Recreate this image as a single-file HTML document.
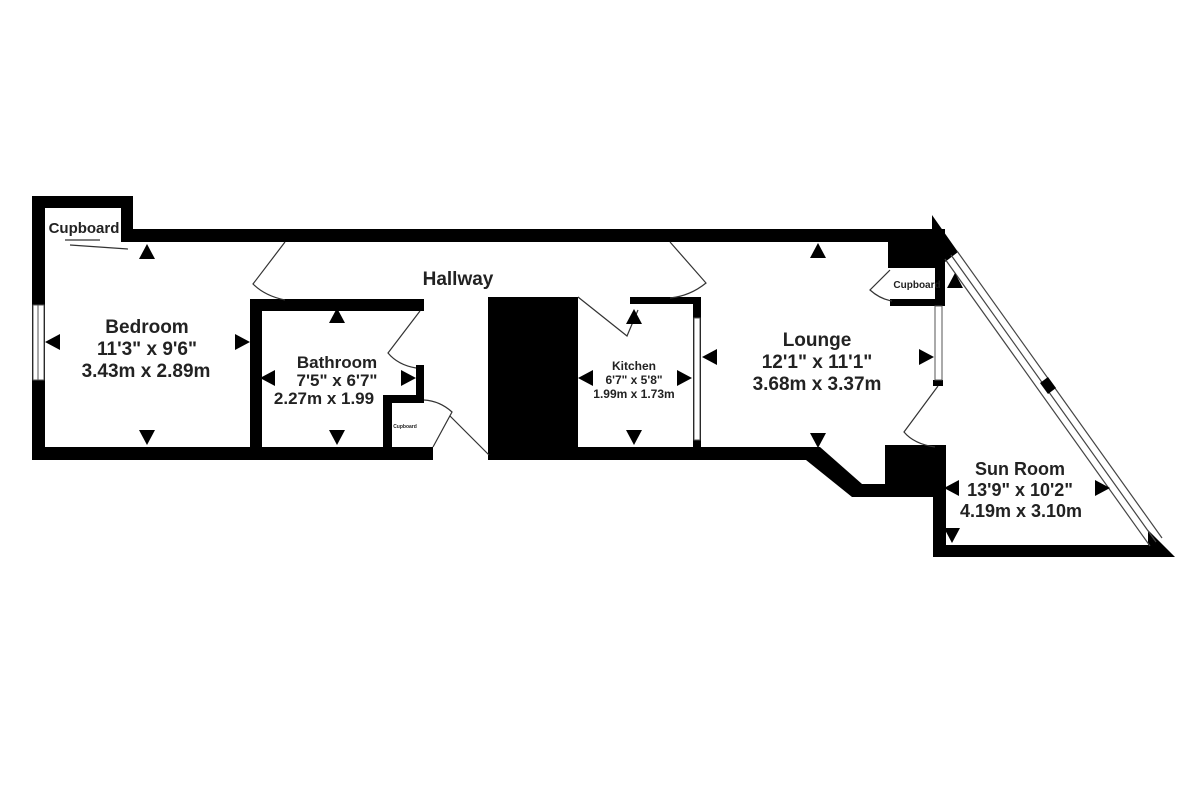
<!DOCTYPE html>
<html><head><style>
html,body{margin:0;padding:0;background:#fff;}
svg{display:block;}
text{font-family:"Liberation Sans",sans-serif;font-weight:bold;fill:#222;text-anchor:middle;}
</style></head><body>
<svg width="1200" height="800" viewBox="0 0 1200 800" xmlns="http://www.w3.org/2000/svg">
<rect width="1200" height="800" fill="#fff"/>
<g fill="#000">
<rect x="32" y="196" width="101" height="12"/>
<rect x="121" y="196" width="12" height="44"/>
<rect x="32" y="196" width="13" height="264"/>
<rect x="121" y="229" width="815" height="13"/>
<polygon points="932,215 958,252 945,262 932,242"/>
<rect x="32" y="447" width="401" height="13"/>
<rect x="565" y="447" width="245" height="13"/>
<polygon points="806,447 820,447 862,484 862,497 852,497 806,460"/>
<rect x="852" y="484" width="90" height="13"/>
<rect x="933" y="445" width="13" height="112"/>
<rect x="885" y="445" width="58" height="40"/>
<rect x="933" y="545" width="225" height="12"/>
<polygon points="1148,530 1175,557 1148,557"/>
<rect x="250" y="299" width="12" height="161"/>
<rect x="250" y="299" width="174" height="12"/>
<rect x="416" y="365" width="8" height="38"/>
<rect x="383" y="395" width="41" height="8"/>
<rect x="383" y="395" width="9" height="65"/>
<rect x="488" y="297" width="90" height="163"/>
<rect x="630" y="297" width="71" height="7"/>
<rect x="693" y="297" width="8" height="163"/>
<rect x="888" y="229" width="57" height="39"/>
<rect x="935" y="242" width="10" height="64"/>
<rect x="890" y="299" width="55" height="7"/>
<rect x="933" y="380" width="10" height="6"/>
</g>
<rect x="33" y="305" width="11" height="75" fill="#fff" stroke="#555" stroke-width="1"/>
<line x1="38" y1="305" x2="38" y2="380" stroke="#555"/>
<rect x="694" y="318" width="6" height="122" fill="#fff" stroke="#555" stroke-width="1"/>
<rect x="935" y="306" width="7" height="74" fill="#fff" stroke="#555" stroke-width="1"/>
<g stroke="#444" stroke-width="1.2" fill="none">
<line x1="945" y1="259" x2="1150" y2="546"/>
<line x1="951" y1="255" x2="1156" y2="542"/>
<line x1="957" y1="251" x2="1162" y2="538"/>
</g>
<polygon points="1040,383 1048,377 1056,388 1048,394" fill="#000"/>
<g stroke="#333" stroke-width="1.2" fill="none">
<path d="M285,242 L253,284 Q265,296 285,300"/>
<path d="M420,311 L388,353 Q398,365 416,368"/>
<path d="M450,416 L489,455"/>
<path d="M433,447 L452,412 Q440,401 424,400"/>
<path d="M578,297 L627,336 L638,310"/>
<path d="M670,242 L706,283 Q690,296 670,298"/>
<path d="M938,386 L904,432 Q914,444 935,447"/>
<path d="M890,270 L870,290 Q880,299 892,301"/>
<line x1="70" y1="245" x2="128" y2="249"/>
<line x1="65" y1="240" x2="100" y2="240"/>
</g>
<g fill="#000">
<polygon points="147,244 139,259 155,259"/><polygon points="147,445 139,430 155,430"/>
<polygon points="45,342 60,334 60,350"/><polygon points="250,342 235,334 235,350"/>
<polygon points="337,308 329,323 345,323"/><polygon points="337,445 329,430 345,430"/>
<polygon points="260,378 275,370 275,386"/><polygon points="416,378 401,370 401,386"/>
<polygon points="634,309 626,324 642,324"/><polygon points="634,445 626,430 642,430"/>
<polygon points="578,378 593,370 593,386"/><polygon points="692,378 677,370 677,386"/>
<polygon points="818,243 810,258 826,258"/><polygon points="818,448 810,433 826,433"/>
<polygon points="702,357 717,349 717,365"/><polygon points="934,357 919,349 919,365"/>
<polygon points="955,273 947,288 963,288"/>
<polygon points="944,488 959,480 959,496"/><polygon points="1110,488 1095,480 1095,496"/>
<polygon points="952,543 944,528 960,528"/>
</g>
<text x="84" y="233" font-size="15">Cupboard</text>
<text x="458" y="285" font-size="19">Hallway</text>
<text x="147" y="333" font-size="19">Bedroom</text>
<text x="147" y="355" font-size="19">11'3"  x 9'6"</text>
<text x="146" y="377" font-size="19">3.43m  x 2.89m</text>
<text x="337" y="368" font-size="17">Bathroom</text>
<text x="337" y="386" font-size="17">7'5"  x 6'7"</text>
<text x="324" y="404" font-size="17">2.27m  x 1.99</text>
<text x="405" y="428" font-size="5" font-weight="normal">Cupboard</text>
<text x="634" y="370" font-size="12">Kitchen</text>
<text x="634" y="384" font-size="12">6'7"  x 5'8"</text>
<text x="634" y="398" font-size="12">1.99m  x 1.73m</text>
<text x="817" y="346" font-size="19">Lounge</text>
<text x="817" y="368" font-size="19">12'1"  x 11'1"</text>
<text x="817" y="390" font-size="19">3.68m  x 3.37m</text>
<text x="917" y="288" font-size="10">Cupboard</text>
<text x="1020" y="475" font-size="18">Sun Room</text>
<text x="1020" y="496" font-size="18">13'9"  x 10'2"</text>
<text x="1021" y="517" font-size="18">4.19m  x 3.10m</text>
</svg>
</body></html>
